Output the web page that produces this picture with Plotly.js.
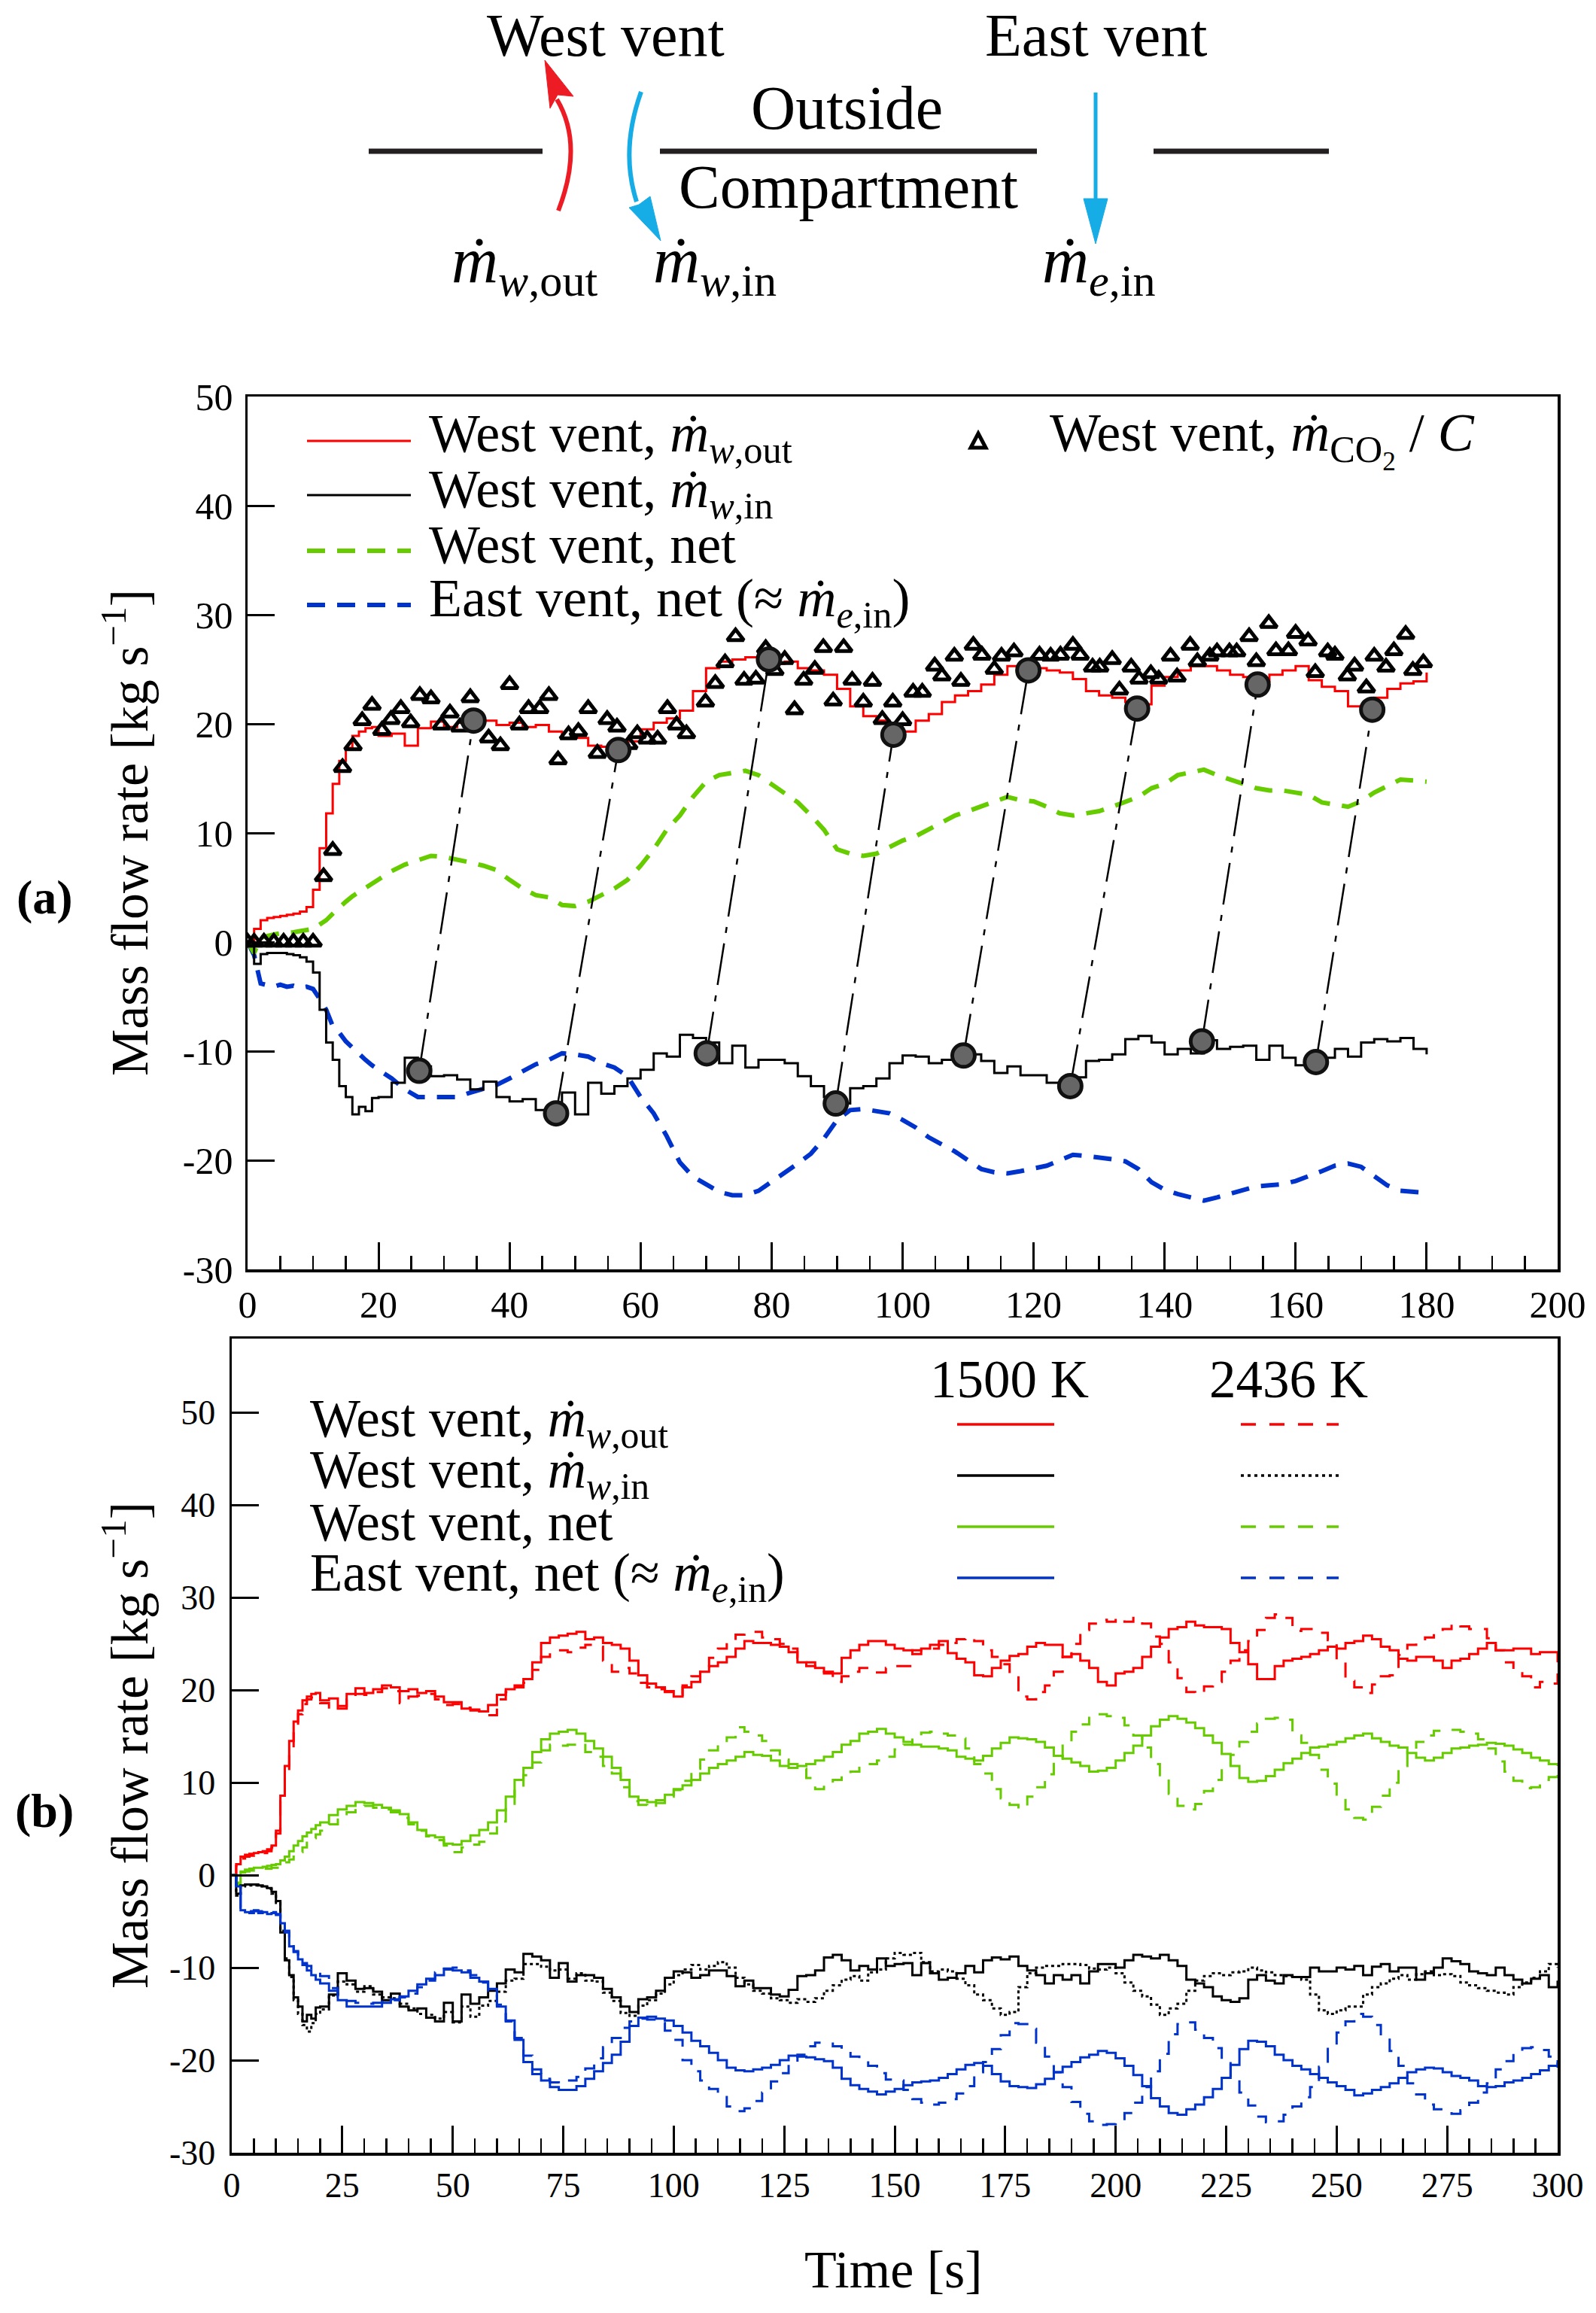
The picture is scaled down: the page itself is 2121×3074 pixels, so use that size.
<!DOCTYPE html>
<html><head><meta charset="utf-8">
<script src="https://cdn.plot.ly/plotly-3.0.1.min.js"></script>
<style>html,body{margin:0;padding:0;background:#fff}</style>
</head><body><div id="chart" style="width:2121px;height:3074px"></div>
<script>
// ---------------- DATA ----------------
const T = [0,1,2,3,4,5,6,7,8,9,10,11,12,13,14,15,16,17,18,19,20,
22,24,26,28,30,32,34,36,38,40,
42,44,46,48,50,52,54,56,58,60,
62,64,66,68,70,72,74,76,78,80,
82,84,86,88,90,92,94,96,98,100,
102,104,106,108,110,112,114,116,118,120,
122,124,126,128,130,132,134,136,138,140,
142,144,146,148,150,152,154,156,158,160,
162,164,166,168,170,172,174,176,178,180,
182,184,186,188,190,192,194,196,198,200,
202,204,206,208,210,212,214,216,218,220,
222,224,226,228,230,232,234,236,238,240,
242,244,246,248,250,252,254,256,258,260,
262,264,266,268,270,272,274,276,278,280,
282,284,286,288,290,292,294,296,298,300];

// 1500 K (also panel a)
const outW1500 = [0,1.2,2.0,2.2,2.3,2.4,2.5,2.6,2.8,3.2,4.8,8.6,11.8,14.5,16.6,17.8,18.9,19.3,19.6,19.7,18.9,
19.1,18.0,19.6,20.2,19.7,20.1,20.5,20.3,19.9,20.1,
19.7,19.9,19.3,18.7,18.7,18.0,17.9,17.7,18.4,19.5,
20.1,20.5,21.2,23.0,25.1,25.7,25.9,26.1,26.3,25.5,
25.7,25.1,24.9,24.5,23.2,21.6,20.7,20.3,19.9,19.3,
20.3,20.9,22.0,22.6,23.0,23.6,24.5,25.3,25.1,25.1,
24.9,24.7,24.1,23.0,22.6,22.4,22.0,21.8,23.5,24.3,
24.9,25.3,25.3,24.9,24.5,24.3,23.9,24.5,24.9,25.3,
24.0,23.4,23.0,21.6,21.5,22.4,23.2,23.7,23.9,24.7,
25.1,24.9,24.9,23.6,23.9,23.2,22.4,20.9,20.5,21.8,
22.0,22.4,23.6,24.7,25.7,26.6,26.8,27.4,27.0,26.8,
26.8,26.6,25.1,24.1,22.8,21.2,21.2,22.6,23.2,23.4,
23.6,23.9,24.3,24.7,24.5,25.1,25.3,25.9,25.5,24.7,
24.3,23.4,23.2,23.6,23.6,23.2,22.4,23.2,23.4,23.9,
24.5,25.1,24.3,24.3,24.5,24.5,23.9,24.1,24.1,23.0];

const inW1500 = [0,-2.0,-1.1,-1.0,-1.0,-1.0,-1.1,-1.2,-1.4,-1.8,-2.8,-6.2,-9.2,-10.8,-13.2,-14.2,-15.8,-15.1,-15.5,-14.3,-14.2,
-12.9,-10.6,-11.4,-12.3,-12.2,-12.6,-13.5,-12.8,-14.2,-14.6,
-14.4,-15.4,-15.8,-13.8,-15.8,-12.9,-13.9,-13.2,-12.5,-11.7,
-10.2,-10.5,-8.5,-8.8,-9.2,-11.1,-9.5,-11.5,-10.8,-10.8,
-11.1,-12.3,-13.2,-14.2,-14.8,-13.4,-13.2,-12.5,-11.1,-10.4,
-10.5,-11.1,-10.8,-10.3,-10.3,-10.9,-12.0,-11.4,-12.2,-12.2,
-12.9,-13.1,-12.4,-10.9,-10.8,-10.3,-8.9,-8.6,-9.2,-10.3,
-9.8,-10.2,-9.0,-9.8,-9.6,-9.5,-10.8,-9.5,-10.6,-11.3,
-11.1,-10.6,-9.8,-10.5,-9.2,-8.9,-9.1,-8.8,-9.8,-10.3,
-10.8,-11.7,-10.8,-11.3,-10.8,-11.7,-10.4,-9.6,-9.6,-10.0,
-9.2,-8.6,-8.8,-9.0,-8.6,-9.2,-9.8,-11.3,-11.7,-12.1,
-13.1,-13.5,-13.7,-13.3,-11.3,-10.8,-11.4,-11.7,-10.8,-11.0,
-11.0,-10.0,-10.4,-10.4,-10.0,-10.2,-9.8,-10.8,-9.9,-9.6,
-10.4,-10.0,-10.0,-11.3,-10.6,-10.0,-9.0,-9.3,-9.6,-10.4,
-10.6,-10.8,-10.0,-10.8,-11.3,-11.7,-11.2,-10.8,-12.1,-11.4];

const netW1500 = [0,-1.0,0.4,0.6,0.7,0.8,0.8,0.9,1.0,1.1,1.2,1.6,2.0,2.6,3.2,3.7,4.2,4.6,5.0,5.4,5.7,
6.5,7.1,7.5,7.9,7.8,7.6,7.3,7.0,6.6,5.7,
4.9,4.3,4.1,3.4,3.3,3.7,4.3,4.9,5.7,7.0,
8.5,10.3,11.6,13.3,14.7,15.3,15.5,15.7,15.3,14.5,
13.7,12.8,11.6,10.3,8.5,8.1,7.9,8.1,8.7,9.3,
9.7,10.3,11.0,11.6,12.0,12.4,12.8,13.3,13.0,12.9,
12.4,11.8,11.6,11.8,12.0,12.4,12.8,13.3,14.1,14.5,
15.3,15.5,15.8,15.3,14.9,14.4,14.1,13.9,13.9,13.7,
13.5,12.8,12.6,12.4,12.9,13.7,14.3,14.9,14.8,14.7,
14.4,13.8,12.9,12.6,12.2,11.8,11.2,11.3,11.6,12.4,
13.2,14.0,15.1,16.1,16.8,17.2,16.9,16.5,15.9,15.1,
14.3,13.1,11.8,10.5,10.1,10.2,10.7,11.4,12.1,12.6,
13.2,13.8,13.9,14.1,14.4,14.8,15.1,15.3,14.8,14.4,
14.0,13.8,13.2,12.7,12.4,12.7,13.2,13.7,13.8,14.0,
14.1,14.3,14.2,14.0,13.6,13.2,12.7,12.4,12.0,11.8];

const netE1500 = [0,-1.2,-3.8,-4.0,-4.1,-3.9,-4.1,-4.0,-4.2,-4.1,-4.3,-5.2,-6.2,-7.7,-8.3,-9.1,-9.7,-10.3,-10.8,-11.3,-11.7,
-12.5,-13.5,-14.2,-14.2,-14.2,-14.2,-13.8,-13.4,-13.1,-12.5,
-11.8,-11.2,-10.8,-10.2,-10.3,-10.5,-11.1,-11.5,-12.3,-14.2,
-15.7,-17.8,-20.2,-21.5,-22.2,-22.9,-23.2,-23.2,-22.8,-22.0,
-21.2,-20.3,-19.4,-18.0,-16.3,-15.4,-15.3,-15.5,-15.7,-16.3,
-17.0,-17.9,-18.5,-19.2,-20.0,-20.8,-21.1,-21.2,-21.0,-20.8,
-20.5,-20.0,-19.5,-19.6,-19.7,-19.9,-20.1,-20.8,-22.0,-22.7,
-23.1,-23.4,-23.7,-23.4,-23.1,-22.7,-22.4,-22.3,-22.2,-21.9,
-21.5,-21.0,-20.5,-20.3,-20.6,-21.5,-22.3,-22.8,-22.9,-23.0,
-22.6,-22.0,-21.3,-20.7,-20.2,-19.7,-19.4,-19.0,-19.2,-19.8,
-20.6,-21.6,-22.8,-24.1,-25.0,-25.7,-25.9,-25.3,-24.8,-24.0,
-23.1,-21.9,-20.5,-18.8,-17.9,-18.0,-18.5,-19.4,-20.0,-20.6,
-21.0,-21.5,-21.9,-22.4,-22.8,-23.2,-23.8,-23.6,-23.2,-22.9,
-22.5,-21.9,-21.3,-21.0,-20.8,-20.9,-21.3,-21.7,-21.9,-22.2,
-22.8,-22.9,-22.8,-22.4,-22.2,-21.9,-21.5,-21.1,-20.6,-20.0];

// 2436 K
const outW2436 = [0,1.0,1.8,2.0,2.1,2.2,2.3,2.4,2.6,3.0,4.5,8.0,11.0,13.5,16.0,17.4,18.5,19.0,19.2,19.0,18.6,
18.0,18.3,19.0,19.6,19.5,19.8,20.2,19.9,18.6,19.3,
19.4,19.6,19.0,18.4,18.5,18.1,17.8,17.5,17.3,19.0,
19.8,20.3,20.8,22.2,23.6,24.0,24.3,24.1,24.6,24.9,
24.7,23.2,22.0,22.4,21.8,20.8,20.3,20.1,19.8,19.5,
20.5,21.5,22.5,23.5,24.5,25.3,26.0,26.3,26.3,25.7,
25.5,25.0,24.5,23.5,23.0,22.4,21.8,20.9,21.5,22.0,
22.4,22.4,21.9,22.4,22.6,22.6,24.3,24.5,24.5,24.9,
25.1,25.5,25.7,25.3,24.3,23.6,22.8,21.8,19.3,19.0,
19.8,20.5,22.0,23.6,25.0,26.5,27.2,27.6,27.4,27.8,
27.4,27.8,27.2,25.8,25.0,23.0,21.3,19.8,19.6,20.4,
20.9,22.0,23.2,24.3,25.3,26.5,27.8,28.2,27.8,26.4,
26.6,26.6,26.2,25.4,23.2,21.0,20.3,19.7,20.6,21.5,
21.6,23.8,24.9,25.5,25.7,26.2,26.6,27.2,26.9,26.6,
26.6,25.6,24.3,23.0,22.2,21.5,20.3,20.9,20.7,21.8];

const inW2436 = [0,-2.2,-1.2,-1.1,-1.1,-1.1,-1.2,-1.3,-1.5,-2.0,-3.0,-6.0,-9.0,-11.0,-13.5,-15.0,-16.2,-16.9,-16.0,-15.0,-14.5,
-13.0,-11.5,-11.8,-12.6,-12.0,-12.9,-13.2,-13.3,-13.9,-14.4,
-15.0,-15.1,-15.5,-14.8,-15.9,-14.2,-15.3,-14.1,-13.6,-12.6,
-11.4,-11.2,-9.6,-9.6,-9.9,-10.3,-10.2,-11.2,-10.6,-11.4,
-11.5,-12.7,-13.6,-14.9,-15.2,-14.1,-13.5,-12.8,-11.8,-10.8,
-10.2,-9.7,-10.2,-9.8,-9.4,-10.0,-11.1,-11.8,-12.5,-12.8,
-13.3,-13.5,-13.8,-13.4,-13.7,-13.3,-12.5,-11.9,-11.3,-10.9,
-11.4,-10.5,-10.2,-9.0,-8.4,-8.6,-8.4,-9.4,-10.4,-10.2,
-10.4,-11.2,-11.9,-12.9,-13.5,-14.4,-15.1,-14.8,-12.1,-10.6,
-10.0,-9.8,-9.8,-9.6,-9.6,-9.7,-10.1,-10.2,-10.0,-10.6,
-11.6,-12.5,-13.1,-14.0,-15.1,-14.4,-13.9,-12.5,-11.4,-10.9,
-10.6,-10.8,-10.5,-10.4,-10.0,-10.3,-10.5,-10.8,-10.9,-11.0,
-11.3,-12.9,-14.6,-15.0,-14.6,-14.2,-14.2,-12.9,-12.1,-11.7,
-11.2,-10.8,-11.3,-10.7,-10.4,-10.8,-10.7,-10.9,-11.6,-11.9,
-12.2,-12.5,-12.7,-12.9,-12.1,-11.6,-11.1,-10.4,-9.6,-10.0];

const netW2436 = [0,-0.8,0.3,0.4,0.5,0.6,0.6,0.7,0.7,0.8,0.8,1.1,1.4,1.7,2.0,2.5,3.0,3.5,4.0,4.4,4.8,
5.5,6.2,6.8,7.3,7.5,7.3,7.1,6.8,6.2,5.5,
4.8,4.2,3.8,3.2,2.5,3.0,3.3,3.6,4.5,5.8,
7.5,9.3,10.8,12.2,13.5,14.1,14.0,14.1,14.3,13.3,
12.8,11.8,11.0,9.5,8.0,7.6,7.3,7.8,8.5,9.2,
10.2,11.5,12.5,13.5,14.3,14.9,16.0,15.5,15.1,14.5,
13.5,12.5,12.0,11.5,10.5,9.3,9.7,10.3,10.8,11.2,
11.6,12.0,12.4,12.8,13.6,14.1,15.0,15.4,15.5,15.3,
15.1,14.8,13.7,12.0,11.0,9.3,8.3,7.6,7.2,8.5,
9.5,10.9,12.6,14.3,15.5,16.3,17.0,17.4,17.2,17.0,
16.2,15.1,13.8,12.0,10.8,8.8,7.5,7.1,7.7,9.1,
10.3,11.6,13.0,14.4,15.5,16.4,16.9,17.0,16.8,15.1,
14.3,13.0,11.4,9.9,8.4,7.1,6.2,6.0,7.4,8.6,
10.0,11.8,13.3,14.4,15.1,15.6,15.7,15.7,15.5,15.3,
14.7,13.7,12.3,11.2,10.2,9.4,9.5,10.3,10.6,11.6];

const netE2436 = [0,-1.0,-3.5,-3.8,-3.9,-3.8,-3.9,-3.8,-4.0,-4.0,-4.2,-5.0,-6.0,-7.0,-8.2,-9.0,-9.5,-9.8,-10.2,-10.5,-10.9,
-12.2,-13.1,-13.6,-13.8,-13.9,-13.8,-13.7,-13.5,-13.2,-12.8,
-12.1,-11.4,-10.5,-10.1,-10.0,-10.3,-10.8,-11.6,-12.5,-14.0,
-15.8,-17.6,-19.5,-21.0,-22.0,-22.4,-22.5,-22.2,-21.8,-20.9,
-19.8,-18.6,-17.6,-16.5,-15.8,-15.5,-15.6,-16.0,-16.8,-17.8,
-20.0,-21.2,-22.2,-23.1,-23.8,-25.0,-25.5,-25.2,-24.4,-23.5,
-22.3,-21.4,-20.4,-19.4,-18.5,-18.1,-18.2,-18.5,-19.0,-19.6,
-20.0,-20.6,-21.4,-22.1,-22.2,-23.2,-24.2,-24.6,-24.8,-24.6,
-24.2,-23.6,-22.8,-21.3,-20.2,-18.8,-17.3,-16.0,-16.1,-16.6,
-18.1,-19.6,-21.3,-22.9,-24.5,-25.8,-26.6,-27.0,-26.9,-26.6,
-25.7,-24.6,-22.9,-21.2,-19.3,-17.2,-16.1,-15.9,-16.7,-17.6,
-18.7,-20.0,-21.7,-23.5,-24.9,-26.1,-26.7,-26.6,-25.9,-25.0,
-24.0,-22.9,-20.7,-18.6,-17.0,-15.8,-15.0,-15.3,-16.2,-17.4,
-19.0,-20.6,-22.5,-23.7,-24.8,-25.3,-25.6,-25.8,-25.4,-24.6,
-23.5,-22.5,-21.0,-20.1,-19.3,-18.7,-18.6,-18.9,-19.6,-20.8];

// CO2-based estimate (triangles), panel a
const co2T = [0,1,2.5,4,5.5,7,8.5,10,11.6,13.0,
14.5,16.1,17.5,19.0,20.5,21.9,23.4,24.9,26.3,28.0,29.6,30.9,32.4,34.0,36.8,38.6,40.0,41.5,42.9,44.6,
46.0,47.4,49.0,50.5,52.0,53.4,54.9,56.4,58.2,59.5,61.0,62.6,64.1,65.5,67.0,69.9,71.4,72.9,74.5,75.8,
77.6,79.1,80.5,82.0,83.5,84.9,86.6,87.9,89.4,91.0,92.3,94.0,95.4,96.9,98.5,100.0,101.6,103.0,104.9,106.0,
107.9,108.9,110.8,112.1,114.0,115.1,117.0,120.9,122.6,124.1,126.0,127.1,129.0,130.1,132.0,133.1,134.9,136.1,137.9,139.1,
140.9,141.9,143.9,145.0,146.9,148.0,149.9,151.0,152.9,154.0,155.9,157.0,158.9,160.0,161.9,163.0,164.9,166.0,167.9,169.0,
170.8,172.0,173.8,175.0,176.8,177.9,179.5];
const co2V = [0,0,0,0,0,0,0,0,6.0,8.4,
16.0,18.0,20.3,21.7,19.4,20.4,21.4,20.1,22.6,22.3,19.9,21.0,19.7,22.4,18.7,18.0,23.6,19.9,21.4,21.4,
22.6,16.7,19.0,19.3,21.4,17.3,20.4,19.7,18.1,19.1,18.6,18.6,21.4,19.9,19.1,22.0,23.7,25.6,28.0,24.0,
24.1,26.9,24.9,25.9,21.3,24.0,25.0,27.0,22.1,27.0,24.0,22.0,23.9,20.4,22.0,20.3,22.9,22.9,25.3,24.4,
26.2,23.9,27.2,26.3,25.0,26.2,26.6,26.3,26.2,26.3,27.2,26.3,25.2,25.2,25.9,23.1,25.2,24.1,24.6,24.1,
26.2,24.3,27.2,25.7,26.2,26.6,26.6,26.6,28.0,25.7,29.2,26.7,26.7,28.3,27.6,24.7,26.6,26.3,24.4,25.3,
23.3,26.2,25.2,26.7,28.2,24.9,25.6];

// paired markers (grey circles) on inflow (lower) and outflow (upper)
const lowT = [26.2,47.1,70.1,89.8,109.3,125.6,145.7,163.1];
const lowV = [-11.8,-15.7,-10.2,-14.8,-10.4,-13.2,-9.1,-11.0];
const upT  = [34.5,56.6,79.6,98.6,119.2,135.8,154.2,171.7];
const upV  = [20.3,17.6,25.9,19.0,24.9,21.4,23.6,21.3];

const yTickVals = [-30,-20,-10,0,10,20,30,40,50];
const yTickText = ['-30','-20','-10','0','10','20','30','40','50'];

// ---------------- LAYOUT HELPERS ----------------
const W = 2121, H = 3074;
const X = v => v / W, Y = v => 1 - v / H;
const SERIF = 'Liberation Serif';
const RED = '#ff0000', BLK = '#000000', GRN = '#66cc00', BLU = '#0033cc';
const nA = 101; // panel (a) shows 0..180 s

function txt(text, x, y, size, o) {
  return Object.assign({text: text, x: X(x), y: Y(y), xref: 'paper', yref: 'paper', showarrow: false,
    font: {family: SERIF, size: size, color: '#000'}, xanchor: 'left', yanchor: 'top'}, o || {});
}
function hline(x0, x1, y, color, width, dash) {
  return {type: 'line', xref: 'paper', yref: 'paper', x0: X(x0), x1: X(x1), y0: Y(y), y1: Y(y),
    line: {color: color, width: width, dash: dash || 'solid'}};
}
function pathShape(cmd, fill, lineColor, lw) {
  return {type: 'path', xref: 'paper', yref: 'paper', path: cmd,
    fillcolor: fill || 'rgba(0,0,0,0)', line: {color: lineColor || 'rgba(0,0,0,0)', width: lw || 0}};
}
const P = (x, y) => X(x) + ',' + Y(y);

// ---------------- TRACES ----------------
const traces = [];
// panel a
traces.push({x: T.slice(0, nA), y: netE1500.slice(0, nA), xaxis: 'x', yaxis: 'y', mode: 'lines',
  line: {color: BLU, width: 6, dash: '24px,16px'}});
traces.push({x: T.slice(0, nA), y: netW1500.slice(0, nA), xaxis: 'x', yaxis: 'y', mode: 'lines',
  line: {color: GRN, width: 6, dash: '24px,16px'}});
traces.push({x: T.slice(0, nA), y: inW1500.slice(0, nA), xaxis: 'x', yaxis: 'y', mode: 'lines',
  line: {color: BLK, width: 3, shape: 'hv'}});
traces.push({x: T.slice(0, nA), y: outW1500.slice(0, nA), xaxis: 'x', yaxis: 'y', mode: 'lines',
  line: {color: RED, width: 3, shape: 'hv'}});
for (let i = 0; i < lowT.length; i++) {
  traces.push({x: [lowT[i], upT[i]], y: [lowV[i], upV[i]], xaxis: 'x', yaxis: 'y', mode: 'lines',
    line: {color: BLK, width: 2.5, dash: '56px,14px,8px,14px'}});
}
traces.push({x: co2T, y: co2V, xaxis: 'x', yaxis: 'y', mode: 'markers',
  marker: {symbol: 'triangle-up-open', size: 19, color: BLK, line: {width: 5, color: BLK}}});
traces.push({x: lowT.concat(upT), y: lowV.concat(upV), xaxis: 'x', yaxis: 'y', mode: 'markers',
  marker: {symbol: 'circle', size: 30, color: '#666666', line: {width: 5, color: '#111'}}});

// panel b
const DASHB = '20px,16px';
const DOTB = '4px,4px';
traces.push({x: T, y: outW1500, xaxis: 'x2', yaxis: 'y2', mode: 'lines', line: {color: RED, width: 3, shape: 'hv'}});
traces.push({x: T, y: outW2436, xaxis: 'x2', yaxis: 'y2', mode: 'lines', line: {color: RED, width: 3, shape: 'hv', dash: DASHB}});
traces.push({x: T, y: netW1500, xaxis: 'x2', yaxis: 'y2', mode: 'lines', line: {color: GRN, width: 3, shape: 'hv'}});
traces.push({x: T, y: netW2436, xaxis: 'x2', yaxis: 'y2', mode: 'lines', line: {color: GRN, width: 3, shape: 'hv', dash: DASHB}});
traces.push({x: T, y: inW1500, xaxis: 'x2', yaxis: 'y2', mode: 'lines', line: {color: BLK, width: 3, shape: 'hv'}});
traces.push({x: T, y: inW2436, xaxis: 'x2', yaxis: 'y2', mode: 'lines', line: {color: BLK, width: 3, shape: 'hv', dash: DOTB}});
traces.push({x: T, y: netE1500, xaxis: 'x2', yaxis: 'y2', mode: 'lines', line: {color: BLU, width: 3, shape: 'hv'}});
traces.push({x: T, y: netE2436, xaxis: 'x2', yaxis: 'y2', mode: 'lines', line: {color: BLU, width: 3, shape: 'hv', dash: DASHB}});

// ---------------- AXES ----------------
function axisCommon(o) {
  return Object.assign({showline: true, mirror: true, linewidth: 3.5, linecolor: '#000', zeroline: false,
    showgrid: false, ticks: 'inside', ticklen: 36, tickwidth: 3, tickcolor: '#000', fixedrange: true}, o);
}
const layout = {
  width: W, height: H, margin: {l: 0, r: 0, t: 0, b: 0}, paper_bgcolor: '#fff', plot_bgcolor: '#fff',
  showlegend: false, font: {family: SERIF, color: '#000'},
  xaxis: axisCommon({domain: [X(329), X(2070)], anchor: 'y', range: [0, 200], dtick: 20, tick0: 0,
    tickfont: {family: SERIF, size: 50, color: '#000'}, ticklabelstandoff: 0,
    minor: {tick0: 0, dtick: 5, ticks: 'inside', ticklen: 18, tickwidth: 2.5, tickcolor: '#000', showgrid: false}}),
  yaxis: axisCommon({domain: [Y(1687), Y(527)], anchor: 'x', range: [-30, 50], tickmode: 'array',
    tickvals: yTickVals, ticktext: yTickText, tickfont: {family: SERIF, size: 50, color: '#000'}, ticklabelstandoff: 6}),
  xaxis2: axisCommon({domain: [X(308), X(2070)], anchor: 'y2', range: [0, 300], dtick: 25, tick0: 0,
    tickfont: {family: SERIF, size: 46, color: '#000'}, ticklabelstandoff: 0,
    minor: {tick0: 0, dtick: 5, ticks: 'inside', ticklen: 19, tickwidth: 2.5, tickcolor: '#000', showgrid: false}}),
  yaxis2: axisCommon({domain: [Y(2861), Y(1779)], anchor: 'x2', range: [-30, 58], tickmode: 'array',
    tickvals: yTickVals, ticktext: yTickText, tickfont: {family: SERIF, size: 46, color: '#000'}, ticklabelstandoff: 9}),
  annotations: [], shapes: []
};

// ---------------- SCHEMATIC ----------------
const A = layout.annotations, S = layout.shapes;
const CYAN = '#16ace6', ARED = '#ed1c24', BAR = '#231f20';
S.push(hline(490, 721, 201, BAR, 7));
S.push(hline(877, 1378, 201, BAR, 7));
S.push(hline(1533, 1766, 201, BAR, 7));
// red curved arrow (out of west vent)
S.push(pathShape('M ' + P(742, 280) + ' Q ' + P(776, 192) + ' ' + P(740, 132), null, ARED, 6));
S.push(pathShape('M ' + P(724, 80) + ' L ' + P(762, 128) + ' L ' + P(741, 126) + ' L ' + P(731, 144) + ' Z', ARED, ARED, 1));
// cyan curved arrow (into west vent)
S.push(pathShape('M ' + P(852, 122) + ' Q ' + P(824, 200) + ' ' + P(846, 268), null, CYAN, 6));
S.push(pathShape('M ' + P(878, 320) + ' L ' + P(836, 276) + ' L ' + P(849, 272) + ' L ' + P(864, 261) + ' Z', CYAN, CYAN, 1));
// cyan straight arrow (into east vent)
S.push({type: 'line', xref: 'paper', yref: 'paper', x0: X(1456), x1: X(1456), y0: Y(123), y1: Y(272), line: {color: CYAN, width: 5}});
S.push(pathShape('M ' + P(1456, 324) + ' L ' + P(1440, 264) + ' L ' + P(1472, 264) + ' Z', CYAN, CYAN, 1));

A.push(txt('West vent', 805, 1, 80, {xanchor: 'center'}));
A.push(txt('East vent', 1456, 1, 80, {xanchor: 'center'}));
A.push(txt('Outside', 1125, 96, 82, {xanchor: 'center'}));
A.push(txt('Compartment', 1127, 201, 82, {xanchor: 'center'}));
A.push(txt('<i>ṁ</i><sub><i>w</i>,out</sub>', 697, 296, 86, {xanchor: 'center'}));
A.push(txt('<i>ṁ</i><sub><i>w</i>,in</sub>', 950, 296, 86, {xanchor: 'center'}));
A.push(txt('<i>ṁ</i><sub><i>e</i>,in</sub>', 1460, 296, 86, {xanchor: 'center'}));

// ---------------- PANEL (a) LEGEND ----------------
S.push(hline(408, 546, 586, RED, 3));
S.push(hline(408, 546, 658, BLK, 3));
S.push(hline(408, 546, 732, GRN, 6, '24px,16px'));
S.push(hline(408, 546, 804, BLU, 6, '24px,16px'));
S.push(pathShape('M ' + P(1300, 576) + ' L ' + P(1310, 595) + ' L ' + P(1290, 595) + ' Z', null, BLK, 5));
const LA = 72;
A.push(txt('West vent, <i>ṁ</i><sub><i>w</i>,out</sub>', 568, 534, LA));
A.push(txt('West vent, <i>ṁ</i><sub><i>w</i>,in</sub>', 568, 608, LA));
A.push(txt('West vent, net', 568, 682, LA));
A.push(txt('East vent, net (≈ <i>ṁ</i><sub><i>e</i>,in</sub>)', 568, 753, LA));
A.push(txt('West vent, <i>ṁ</i><sub>CO<sub>2</sub></sub> / <i>C</i>', 1393, 533, LA));

// ---------------- PANEL (b) LEGEND ----------------
const LB = 71;
A.push(txt('1500 K', 1341, 1792, LB, {xanchor: 'center'}));
A.push(txt('2436 K', 1712, 1792, LB, {xanchor: 'center'}));
A.push(txt('West vent, <i>ṁ</i><sub><i>w</i>,out</sub>', 410, 1844, LB));
A.push(txt('West vent, <i>ṁ</i><sub><i>w</i>,in</sub>', 410, 1912, LB));
A.push(txt('West vent, net', 410, 1982, LB));
A.push(txt('East vent, net (≈ <i>ṁ</i><sub><i>e</i>,in</sub>)', 410, 2049, LB));
[[1893, RED], [1961, BLK], [2029, GRN], [2097, BLU]].forEach(function (r) {
  S.push(hline(1272, 1401, r[0], r[1], 3.5));
  S.push(hline(1649, 1779, r[0], r[1], 3.5, r[1] === BLK ? '4px,5px' : '20px,18px'));
});

// ---------------- AXIS TITLES & PANEL LABELS ----------------
const ytitle = 'Mass flow rate [kg s<sup>−1</sup>]';
A.push(txt(ytitle, 167, 1107, 70, {xanchor: 'center', yanchor: 'middle', textangle: -90}));
A.push(txt(ytitle, 167, 2320, 70, {xanchor: 'center', yanchor: 'middle', textangle: -90}));
A.push(txt('Time [s]', 1187, 2976, 70, {xanchor: 'center'}));
A.push(txt('<b>(a)</b>', 59, 1192, 64, {xanchor: 'center', yanchor: 'middle'}));
A.push(txt('<b>(b)</b>', 59, 2406, 64, {xanchor: 'center', yanchor: 'middle'}));

Plotly.newPlot('chart', traces, layout, {staticPlot: true, displayModeBar: false});
</script></body></html>
